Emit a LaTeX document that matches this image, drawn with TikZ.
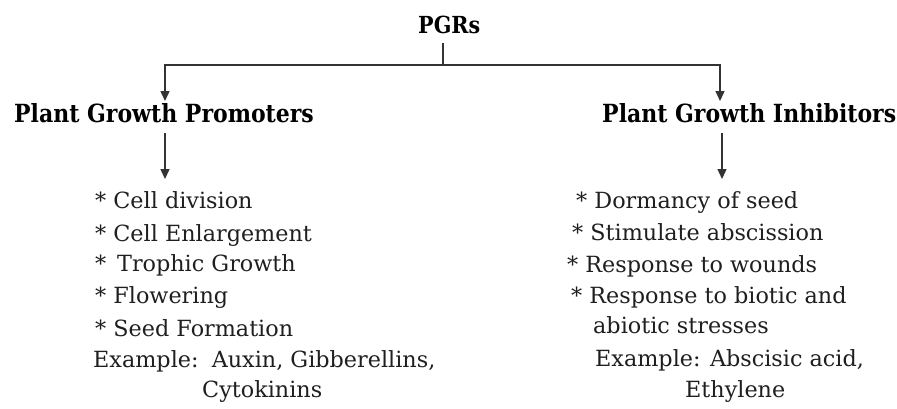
\documentclass[tikz,border=0pt]{standalone}
\usepackage{fontspec}
\setmainfont{DejaVu Serif}
\newfontfamily\headfont[FakeStretch=0.88]{DejaVu Serif}
\usetikzlibrary{arrows.meta}
\begin{document}
\begin{tikzpicture}[x=1pt,y=-1pt,
  txt/.style={anchor=base west,inner sep=0pt,text=black!88,font=\fontsize{22.3}{26}\selectfont},
  head/.style={anchor=base west,inner sep=0pt,text=black,font=\headfont\fontsize{25}{28}\selectfont\bfseries},
  conn/.style={draw=black!80,line width=1.4pt},
  arr/.style={conn,-{Triangle[length=10pt,width=9pt]}}]
\useasboundingbox[fill=white] (0,0) rectangle (897,408);
% headings
\node[head,font=\headfont\fontsize{23.5}{28}\selectfont\bfseries] (pgrs) at (418,33) {PGRs};
\node[head] (prom) at (14,122) {Plant Growth Promoters};
\node[head] (inhib) at (602,122) {Plant Growth Inhibitors};
% left list
\node[txt] (l1) at (95,208) {* Cell division};
\node[txt] (l2) at (95,241) {* Cell Enlargement};
\node[txt] (l3) at (95,271) {*\, Trophic Growth};
\node[txt] (l4) at (95,303) {* Flowering};
\node[txt] (l5) at (95,336) {* Seed Formation};
\node[txt] (l6) at (93,367) {Example:\, Auxin, Gibberellins,};
\node[txt] (l7) at (202,397) {Cytokinins};
% right list
\node[txt] (r1) at (576,208) {* Dormancy of seed};
\node[txt] (r2) at (572,240) {* Stimulate abscission};
\node[txt] (r3) at (567,272) {* Response to wounds};
\node[txt] (r4) at (571,303) {* Response to biotic and};
\node[txt] (r5) at (593,333) {abiotic stresses};
\node[txt] (r6) at (595,366) {Example: Abscisic acid,};
\node[txt] (r7) at (685,397) {Ethylene};
% connector points
\coordinate (top) at (443,43);
\coordinate (j) at (443,65);
\coordinate (pa) at (165,101);
\coordinate (ia) at (720,101);
\coordinate (pb) at (165,133);
\coordinate (pl) at (165,179);
\coordinate (ib) at (722,133);
\coordinate (il) at (722,179);
\draw[conn] (top) -- (j);
\draw[arr] (j) -| (pa);
\draw[arr] (j) -| (ia);
\draw[arr] (pb) -- (pl);
\draw[arr] (ib) -- (il);
\end{tikzpicture}
\end{document}
